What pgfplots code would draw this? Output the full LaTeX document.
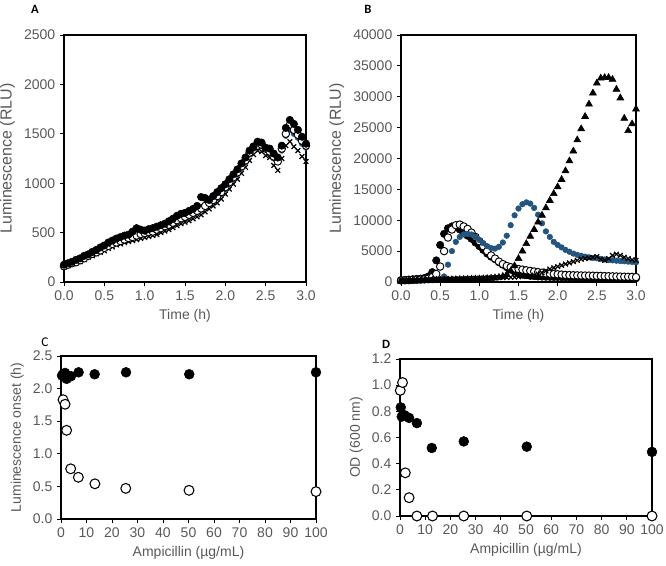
\documentclass[border=0pt]{standalone}
\usepackage{pgfplots}
\pgfplotsset{compat=1.18}
\usepackage{pgfplotstable}
\usepackage{fontspec}
\setmainfont{Liberation Sans}
\newfontfamily\calfont{Carlito}
\definecolor{txt}{HTML}{595959}
\definecolor{bl}{HTML}{24557E}

\pgfplotstableread{
t k o b x
0.00 175 160 170 150
0.05 190 175 180 165
0.10 205 190 195 185
0.15 225 200 205 195
0.20 240 220 225 205
0.25 265 240 245 225
0.30 280 265 260 250
0.35 305 285 280 265
0.40 325 300 300 285
0.45 350 320 320 300
0.50 370 345 340 315
0.55 400 365 365 340
0.60 420 385 385 355
0.65 440 400 400 375
0.70 455 415 415 385
0.75 470 430 430 400
0.80 480 445 440 410
0.85 510 455 455 420
0.90 545 470 465 430
0.95 530 485 475 440
1.00 520 495 485 450
1.05 535 505 495 460
1.10 545 510 510 470
1.15 560 530 525 480
1.20 575 545 540 500
1.25 590 565 555 515
1.30 615 580 575 530
1.35 640 600 595 550
1.40 670 625 615 570
1.45 690 645 635 590
1.50 700 660 650 605
1.55 720 680 665 620
1.60 740 700 685 640
1.65 770 720 705 660
1.70 860 745 730 680
1.75 850 770 755 710
1.80 830 800 785 740
1.85 870 830 815 770
1.90 910 870 850 800
1.95 950 910 890 840
2.00 990 960 940 890
2.05 1040 1010 990 940
2.10 1090 1060 1040 990
2.15 1140 1110 1090 1040
2.20 1200 1170 1150 1100
2.25 1260 1230 1210 1160
2.30 1330 1310 1290 1230
2.35 1370 1370 1350 1290
2.40 1420 1380 1400 1330
2.45 1410 1390 1420 1320
2.50 1360 1350 1340 1280
2.55 1350 1320 1310 1260
2.60 1300 1270 1250 1180
2.65 1260 1220 1230 1130
2.70 1380 1350 1330 1250
2.75 1560 1500 1480 1380
2.80 1640 1590 1540 1420
2.85 1600 1540 1500 1370
2.90 1540 1490 1460 1330
2.95 1470 1430 1400 1270
3.00 1400 1380 1360 1220
}\tabA

\pgfplotstableread{
t k o b tri x
0.00 300 250 150 100 200
0.05 350 280 170 120 220
0.10 400 300 190 140 240
0.15 450 330 200 160 260
0.20 500 360 220 180 280
0.25 550 400 230 200 300
0.30 650 450 250 220 320
0.35 900 550 270 240 340
0.40 1600 800 290 260 360
0.45 3500 1300 320 280 380
0.50 6000 2500 400 300 400
0.55 7800 5000 900 320 420
0.60 8700 7200 2800 340 440
0.65 9000 8500 5000 360 460
0.70 8900 9200 6500 380 480
0.75 8500 9300 7300 400 500
0.80 8000 9000 7700 420 520
0.85 7500 8600 7800 440 540
0.90 7000 8000 7700 460 560
0.95 6400 7300 7300 480 580
1.00 5800 6600 6800 500 600
1.05 5200 5800 6300 520 620
1.10 4600 5000 5800 560 640
1.15 4100 4300 5500 600 660
1.20 3700 3800 5400 650 680
1.25 3200 3300 5700 750 700
1.30 2800 2900 6400 900 720
1.35 2400 2600 7500 1200 740
1.40 2000 2400 9200 1800 760
1.45 1700 2200 10800 2600 800
1.50 1400 2100 11900 3800 850
1.55 1200 2000 12600 5000 900
1.60 1100 1900 12900 6200 950
1.65 1000 1800 12700 7400 1000
1.70 950 1700 12000 8500 1100
1.75 900 1600 10900 9700 1300
1.80 870 1500 9500 10800 1500
1.85 850 1400 8200 12000 1800
1.90 830 1350 7300 13200 2100
1.95 810 1300 6500 14300 2300
2.00 800 1250 6000 15400 2500
2.05 790 1200 5600 16600 2700
2.10 780 1150 5200 18000 2900
2.15 770 1120 4900 19600 3100
2.20 760 1100 4600 21200 3300
2.25 750 1080 4400 23000 3500
2.30 740 1060 4250 24800 3700
2.35 730 1050 4100 26800 3800
2.40 720 1040 4000 28800 3900
2.45 710 1020 3900 30600 4000
2.50 700 1000 3850 32200 4100
2.55 690 980 3750 33000 3700
2.60 680 960 3650 33100 3500
2.65 670 940 3550 33100 3800
2.70 660 920 3500 32800 4300
2.75 650 900 3450 31200 4500
2.80 640 880 3400 29800 4300
2.85 630 860 3350 26500 4000
2.90 620 850 3300 24500 3800
2.95 610 830 3250 25600 3600
3.00 600 800 3200 28000 3500
}\tabB

\pgfplotsset{
  panel/.style={
    scale only axis,
    anchor=south west,
    axis line style={black, line width=0.8pt},
    tick style={black, line width=0.7pt},
    tick align=outside,
    tick pos=left,
    major tick length=3pt,
    ticklabel style={font=\fontsize{10.5}{12}\selectfont, text=txt},
    label style={font=\fontsize{10.5}{12}\selectfont, text=txt},
    /pgf/number format/assume math mode=true,
    /pgf/number format/1000 sep={},
    scaled ticks=false,
    clip=false,
  },
  bigy/.style={ylabel style={font=\fontsize{12}{14}\selectfont}},
  onedec/.style={/pgf/number format/fixed, /pgf/number format/fixed zerofill, /pgf/number format/precision=1},
  kc/.style={only marks, mark=*, mark options={fill=black, draw=black}, mark size=2.8pt},
  oc/.style={only marks, mark=*, mark options={fill=white, draw=black, line width=0.7pt}, mark size=2.8pt},
  bc/.style={only marks, mark=*, mark options={fill=bl, draw=bl}, mark size=2.1pt},
  tr/.style={only marks, mark=triangle*, mark options={fill=black, draw=black}, mark size=3pt},
  xx/.style={only marks, mark=x, mark options={draw=black, line width=0.9pt}, mark size=2.5pt},
  kC/.style={only marks, mark=*, mark options={fill=black, draw=black}, mark size=3.7pt},
  oC/.style={only marks, mark=*, mark options={fill=white, draw=black, line width=0.8pt}, mark size=3.7pt},
}

\begin{document}
\begin{tikzpicture}
\path[use as bounding box] (0,0) rectangle (499.5pt,423.75pt);

% Panel A
\begin{axis}[panel, bigy, at={(48pt,212.25pt)}, width=181.5pt, height=185.25pt,
  xmin=0, xmax=3, ymin=0, ymax=2500,
  xtick={0,0.5,1,1.5,2,2.5,3}, ytick={0,500,1000,1500,2000,2500},
  x tick label style={onedec},
  xlabel={Time (h)}, ylabel={Luminescence (RLU)}]
\addplot[xx] table[x=t,y=x]{\tabA};
\addplot[bc] table[x=t,y=b]{\tabA};
\addplot[oc] table[x=t,y=o]{\tabA};
\addplot[kc] table[x=t,y=k]{\tabA};
\end{axis}

% Panel B
\begin{axis}[panel, bigy, at={(300.75pt,212.25pt)}, width=176.25pt, height=185.25pt,
  xmin=0, xmax=3, ymin=0, ymax=40000,
  xtick={0,0.5,1,1.5,2,2.5,3}, ytick={0,5000,10000,15000,20000,25000,30000,35000,40000},
  x tick label style={onedec},
  xlabel={Time (h)}, ylabel={Luminescence (RLU)}]
\addplot[kc] table[x=t,y=k]{\tabB};
\addplot[oc] table[x=t,y=o]{\tabB};
\addplot[bc] table[x=t,y=b]{\tabB};
\addplot[tr] table[x=t,y=tri]{\tabB};
\addplot[xx] table[x=t,y=x]{\tabB};
\end{axis}

% Panel C
\begin{axis}[panel, at={(45.75pt,34.5pt)}, width=191.25pt, height=122.25pt,
  xmin=0, xmax=100, ymin=0, ymax=2.5,
  xtick={0,10,20,30,40,50,60,70,80,90,100}, ytick={0,0.5,1,1.5,2,2.5},
  y tick label style={onedec},
  xlabel={Ampicillin (µg/mL)}, ylabel={Luminescence onset (h)}]
\addplot[oC] coordinates {(0.8,1.83) (1.6,1.76) (2.2,1.36) (3.8,0.77) (6.8,0.64) (13.3,0.54) (25.4,0.47) (50.2,0.44) (100,0.42)};
\addplot[kC] coordinates {(0.4,2.2) (0.8,2.22) (1.6,2.24) (2.2,2.15) (3.9,2.19) (6.9,2.25) (13.2,2.22) (25.5,2.25) (50.3,2.22) (100,2.25)};
\end{axis}

% Panel D
\begin{axis}[panel, at={(300pt,36.75pt)}, width=189pt, height=117.75pt,
  xmin=0, xmax=100, ymin=0, ymax=1.2,
  xtick={0,10,20,30,40,50,60,70,80,90,100}, ytick={0,0.2,0.4,0.6,0.8,1,1.2},
  y tick label style={onedec},
  xlabel={Ampicillin (µg/mL)}, ylabel={OD (600 nm)}]
\addplot[oC] coordinates {(0.1,0.96) (1.0,1.02) (2.1,0.33) (3.6,0.14) (6.7,0) (12.9,0) (25.3,0) (50.3,0) (100,0)};
\addplot[kC] coordinates {(0.3,0.83) (0.7,0.76) (1.8,0.77) (3.6,0.75) (6.7,0.71) (12.6,0.52) (25.3,0.57) (50.3,0.53) (100,0.49)};
\end{axis}

\node[font=\calfont\bfseries\fontsize{9.5}{11}\selectfont] at (26.25pt,417pt) {A};
\node[font=\calfont\bfseries\fontsize{9.5}{11}\selectfont] at (276pt,417pt) {B};
\node[font=\calfont\fontsize{10}{11}\selectfont] at (33.75pt,167.25pt) {C};
\node[font=\calfont\bfseries\fontsize{9.5}{11}\selectfont] at (289.5pt,165.75pt) {D};
\end{tikzpicture}
\end{document}
